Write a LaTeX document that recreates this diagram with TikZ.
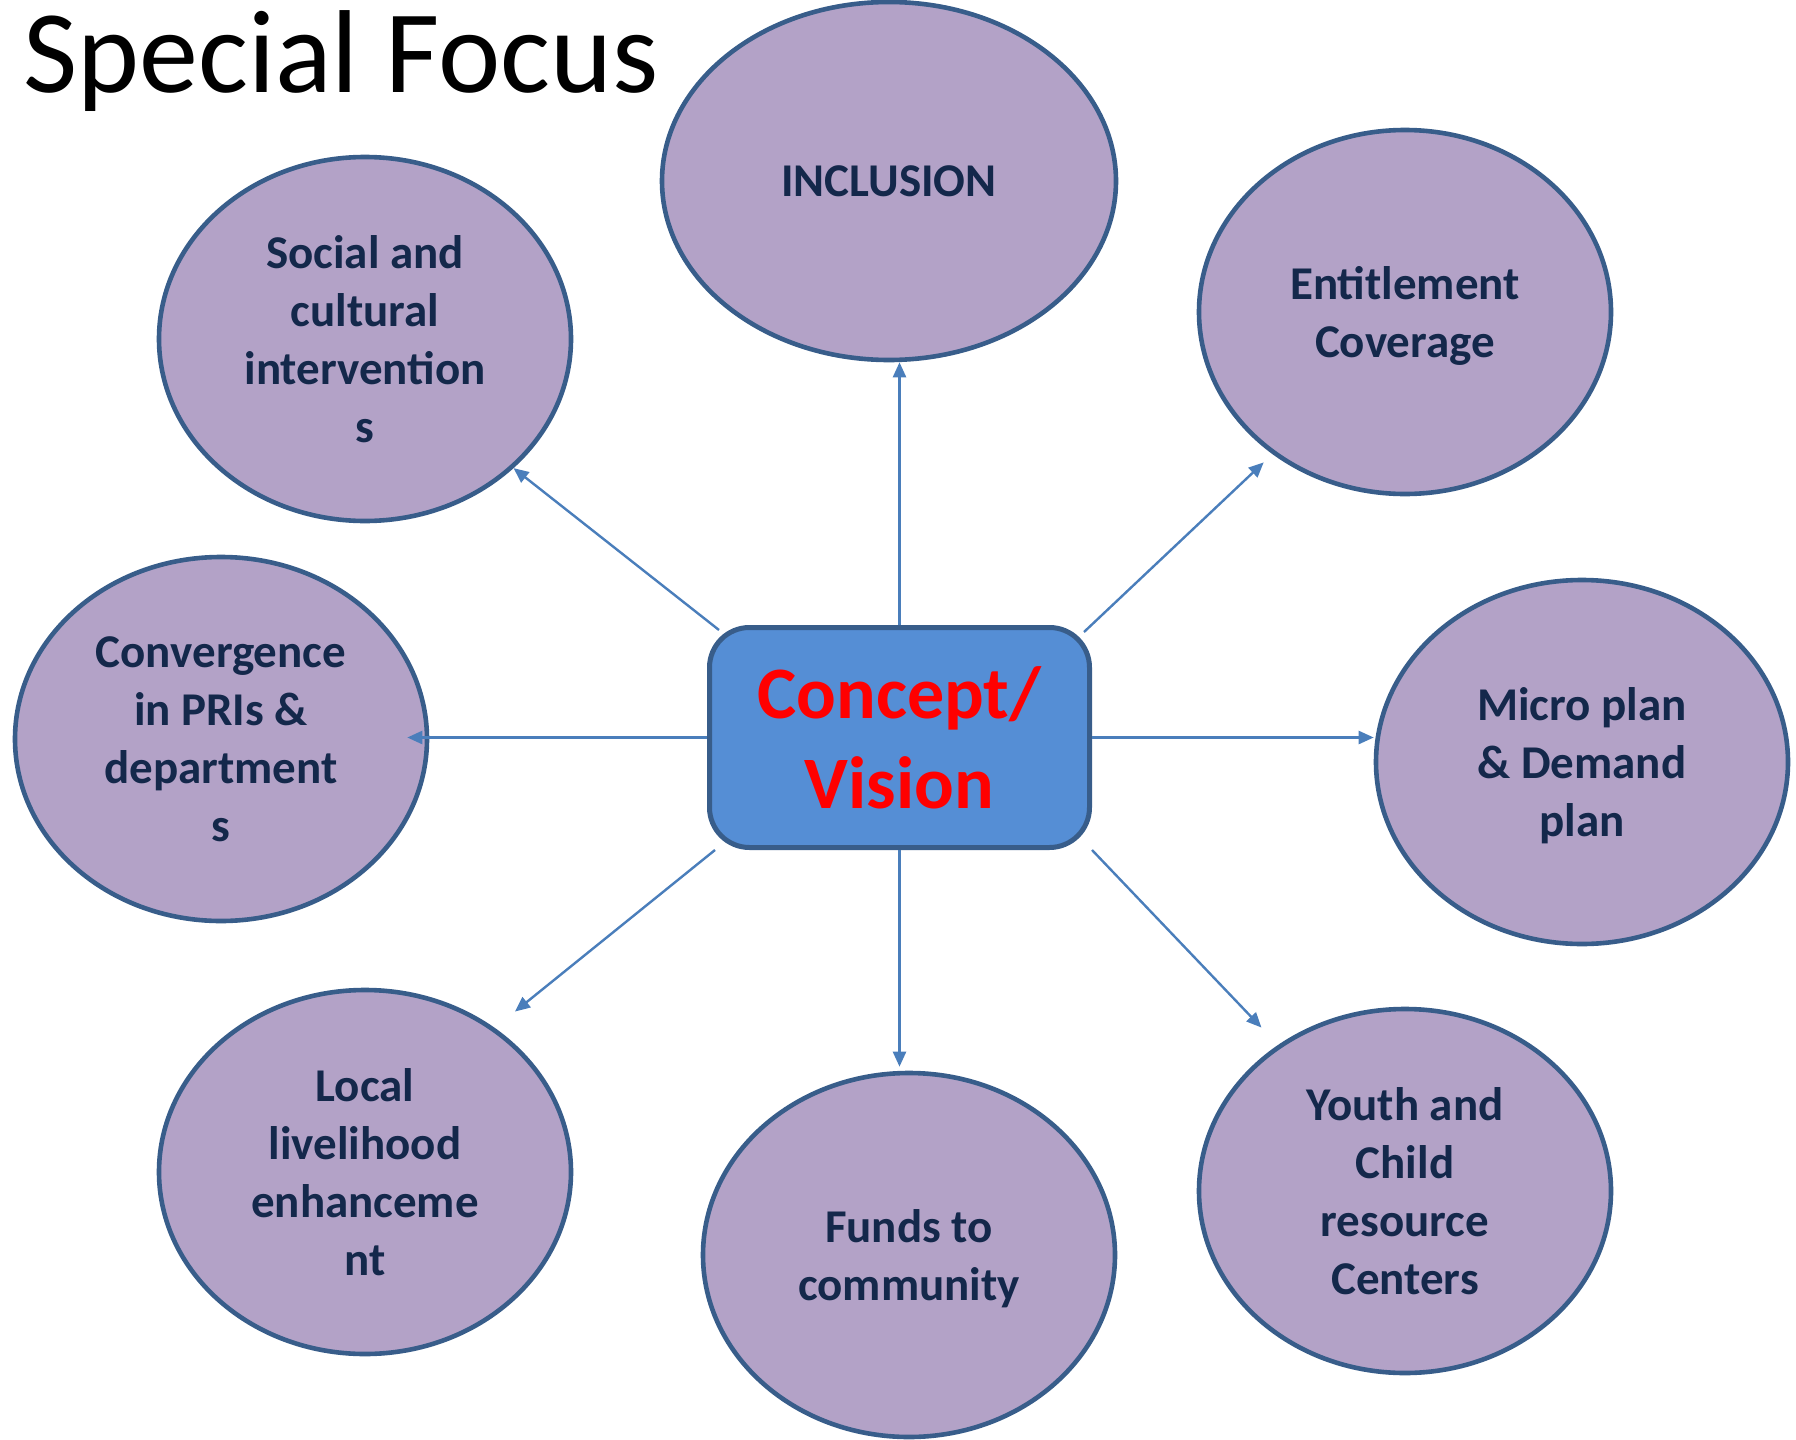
\documentclass[tikz,border=0pt]{standalone}
\usepackage{fontspec}
\setmainfont{Carlito}
\usetikzlibrary{arrows.meta,shapes.geometric}
\definecolor{Lilac}{HTML}{B3A2C7}
\definecolor{Rim}{HTML}{385D8A}
\definecolor{BoxBlue}{HTML}{558ED5}
\definecolor{Navy}{HTML}{14284B}
\definecolor{LinkBlue}{HTML}{4A7EBB}

\begin{document}
\begin{tikzpicture}[x=0.5pt,y=-0.5pt,bubble/.style={ellipse,draw=Rim,line width=2.3pt,fill=Lilac,minimum width=206pt,minimum height=182pt,inner sep=0pt,text depth=0pt,align=center,text=Navy,font=\bfseries\fontsize{23.5}{29}\selectfont},link/.style={-{Triangle[length=7.5pt,width=6.5pt]},line width=1.2pt,draw=LinkBlue}]
\useasboundingbox (0,0) rectangle (1796,1440);
\fill[white] (0,0) rectangle (1796,1440);

\node[anchor=base west,inner sep=0pt,font=\fontsize{59}{70}\selectfont] (title) at (23,92) {Special Focus};

\node[bubble,minimum width=227pt,minimum height=179pt] (incl) at (889,181) {INCLUSION};
\node[bubble] (soc) at (365,339) {Social and\\cultural\\intervention\\s};
\node[bubble] (ent) at (1405,312) {Entitlement\\Coverage};
\node[bubble] (conv) at (221,739) {Convergence\\in PRIs \&\\department\\s};
\node[bubble] (micro) at (1582,762) {Micro plan\\\& Demand\\plan};
\node[bubble] (local) at (365,1172) {Local\\livelihood\\enhanceme\\nt};
\node[bubble] (funds) at (909,1255) {Funds to\\community};
\node[bubble] (youth) at (1405,1191) {Youth and\\Child\\resource\\Centers};

\node[draw=Rim,line width=2.5pt,fill=BoxBlue,rounded corners=20pt,minimum width=190pt,minimum height=110pt,align=center,text=red,font=\bfseries\fontsize{37}{45}\selectfont] (box) at (899.5,737.5) {Concept/\\Vision};

\draw[link] (box.north) -- (box.north |- incl.south);
\draw[link] ([xshift=6pt,yshift=-2.5pt]box.north west) -- (soc.-41);
\draw[link,shorten >=6pt] ([xshift=-4pt,yshift=-3.5pt]box.north east) -- (ent.227);
\draw[link,shorten >=-11pt] (box.west) -- (box.west -| conv.east);
\draw[link] (box.east) -- (box.east -| micro.west);
\draw[link,shorten >=13pt] ([xshift=4pt]box.south west) -- (local.48);
\draw[link,shorten >=2pt] (box.south) -- (box.south |- funds.north);
\draw[link,shorten >=12pt] (box.south east) -- (youth.131);

\end{tikzpicture}
\end{document}
